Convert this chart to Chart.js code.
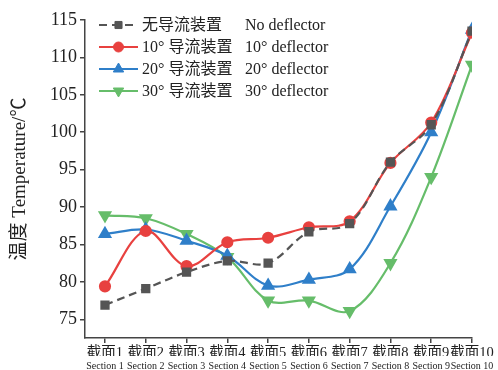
<!DOCTYPE html>
<html>
<head>
<meta charset="utf-8">
<script src="https://cdn.jsdelivr.net/npm/chart.js@4.4.1/dist/chart.umd.min.js"></script>
<style>
  html, body { margin: 0; padding: 0; background: #fff; }
  #wrap { width: 498px; height: 370px; position: relative; }
</style>
</head>
<body>
<div id="wrap"><canvas id="c"></canvas></div>
<script>
// Temperature at each measuring section for each deflector configuration
const sectionsCn = ['截面1','截面2','截面3','截面4','截面5','截面6','截面7','截面8','截面9','截面10'];
const sectionsEn = ['Section 1','Section 2','Section 3','Section 4','Section 5','Section 6','Section 7','Section 8','Section 9','Section 10'];
const noDeflector  = [76.9, 79.1, 81.3, 82.8, 82.5, 86.7, 87.8, 96.0, 101.0, 113.5];
const deflector10  = [79.4, 86.8, 82.1, 85.3, 85.9, 87.3, 88.1, 95.9, 101.3, 113.3];
const deflector20  = [86.4, 87.0, 85.5, 83.5, 79.5, 80.3, 81.7, 90.1, 100.0, 113.7];
const deflector30  = [88.9, 88.5, 86.4, 83.3, 77.5, 77.5, 76.1, 82.5, 94.0, 109.0];
const legendCn = ['无导流装置', '10° 导流装置', '20° 导流装置', '30° 导流装置'];
const legendEn = ['No deflector', '10° deflector', '20° deflector', '30° deflector'];
const yTicks = [75, 80, 85, 90, 95, 100, 105, 110, 115];

const SERIF = '"Liberation Serif", "Times New Roman", "Noto Sans CJK SC", serif';
const AXIS = '#444';

const toPoints = arr => arr.map((v, i) => ({ x: i, y: v }));

const series = [
  { data: noDeflector, color: '#555555', style: 'rect', rot: 0, radius: 5, dash: [8, 5] },
  { data: deflector10, color: '#e8413f', style: 'circle', rot: 0, radius: 5, dash: [] },
  { data: deflector20, color: '#2f7fc9', style: 'triangle', rot: 0, radius: 6, dash: [] },
  { data: deflector30, color: '#66bd6a', style: 'triangle', rot: 180, radius: 6, dash: [] }
];

// Two-column legend drawn in the upper-left of the plot
const legendPlugin = {
  id: 'twoColLegend',
  afterDatasetsDraw(chart) {
    const ctx = chart.ctx;
    const x0 = 99, x1 = 138, xCn = 142, xEn = 245;
    const rows = [25, 47, 69, 91];
    ctx.save();
    chart.data.datasets.forEach((ds, i) => {
      const y = rows[i];
      ctx.strokeStyle = ds.borderColor;
      ctx.lineWidth = ds.borderWidth;
      ctx.setLineDash(ds.borderDash || []);
      ctx.beginPath();
      ctx.moveTo(x0, y);
      ctx.lineTo(x1, y);
      ctx.stroke();
      ctx.setLineDash([]);
      ctx.fillStyle = ds.pointBackgroundColor;
      ctx.strokeStyle = ds.pointBorderColor;
      ctx.lineWidth = 1;
      Chart.helpers.drawPoint(ctx, {
        pointStyle: ds.pointStyle,
        rotation: ds.pointRotation,
        radius: ds.pointRadius,
        borderWidth: 1
      }, (x0 + x1) / 2, y);
      ctx.fillStyle = '#222';
      ctx.font = '16px ' + SERIF;
      ctx.textBaseline = 'middle';
      ctx.textAlign = 'left';
      ctx.fillText(legendCn[i], xCn, y + 1);
      ctx.fillText(legendEn[i], xEn, y + 1);
    });
    ctx.restore();
  }
};

const whiteBg = {
  id: 'whiteBg',
  beforeDraw(chart) {
    const ctx = chart.ctx;
    ctx.save();
    ctx.fillStyle = '#fff';
    ctx.fillRect(0, 0, chart.width, chart.height);
    ctx.restore();
  }
};

const indexTicks = scale => { scale.ticks = sectionsCn.map((_, i) => ({ value: i })); };

new Chart(document.getElementById('c'), {
  type: 'line',
  data: {
    datasets: series.map(s => ({
      data: toPoints(s.data),
      borderColor: s.color,
      backgroundColor: s.color,
      pointBackgroundColor: s.color,
      pointBorderColor: s.color,
      borderWidth: 2.2,
      borderDash: s.dash,
      pointStyle: s.style,
      pointRotation: s.rot,
      pointRadius: s.radius,
      pointHoverRadius: s.radius,
      tension: 0.35,
      fill: false
    }))
  },
  options: {
    responsive: true,
    maintainAspectRatio: false,
    animation: false,
    layout: { padding: { top: 20, right: 26, left: 0, bottom: 0 } },
    plugins: { legend: { display: false }, tooltip: { enabled: false } },
    scales: {
      x: {
        type: 'linear',
        position: 'bottom',
        min: -0.49,
        max: 9,
        afterBuildTicks: indexTicks,
        afterFit: s => { s.height = 18; },
        border: { display: true, color: AXIS, width: 1.5 },
        grid: { display: true, drawOnChartArea: false, drawTicks: true, tickLength: 5, color: AXIS, lineWidth: 1.5 },
        ticks: {
          autoSkip: false, maxRotation: 0, padding: 1,
          color: '#222',
          font: { family: SERIF, size: 14.5 },
          callback: v => sectionsCn[v]
        }
      },
      x2: {
        type: 'linear',
        position: 'bottom',
        min: -0.49,
        max: 9,
        afterBuildTicks: indexTicks,
        afterFit: s => { s.height = 14; },
        border: { display: false },
        grid: { display: false, drawTicks: false },
        ticks: {
          autoSkip: false, maxRotation: 0, padding: 4,
          color: '#222',
          font: { family: SERIF, size: 10 },
          callback: v => sectionsEn[v]
        }
      },
      y: {
        min: 72.5,
        max: 115,
        afterBuildTicks: s => { s.ticks = yTicks.map(v => ({ value: v })); },
        afterFit: s => { s.width = 85; },
        border: { display: true, color: AXIS, width: 1.5 },
        grid: { display: true, drawOnChartArea: false, drawTicks: true, tickLength: 5, color: AXIS, lineWidth: 1.5 },
        ticks: { color: '#222', padding: 3, font: { family: SERIF, size: 18 } },
        title: {
          display: true,
          text: '温度 Temperature/℃',
          color: '#222',
          padding: { top: 9, bottom: 0 },
          font: { family: SERIF, size: 19 }
        }
      }
    }
  },
  plugins: [whiteBg, legendPlugin]
});
</script>
</body>
</html>
